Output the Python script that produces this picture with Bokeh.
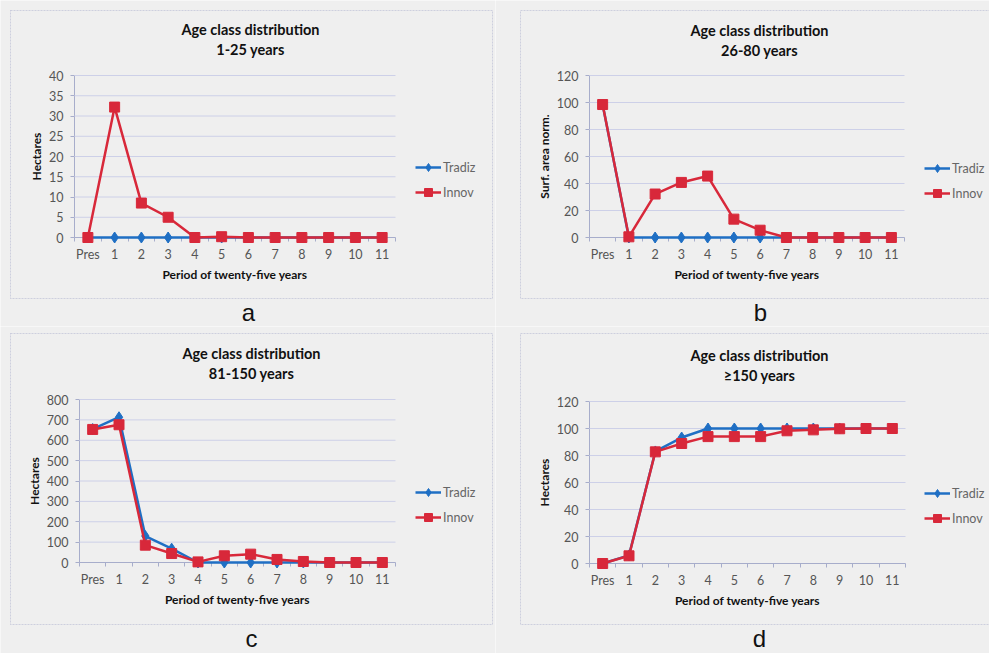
from bokeh.plotting import figure
from bokeh.models import (Range1d, FixedTicker, Label, BoxAnnotation, Legend, LegendItem,
                          CustomJSTickFormatter)
from bokeh.layouts import row, column
from bokeh.embed import file_html
from bokeh.resources import INLINE

# ---------------- data ----------------
periods = ["Pres", "1", "2", "3", "4", "5", "6", "7", "8", "9", "10", "11"]

a_tradiz = [0, 0, 0, 0, 0, 0, 0, 0, 0, 0, 0, 0]
a_innov = [0, 32.2, 8.5, 5, 0, 0.2, 0, 0, 0, 0, 0, 0]

b_tradiz = [98.5, 0, 0, 0, 0, 0, 0, 0, 0, 0, 0, 0]
b_innov = [98.5, 0.5, 32.2, 40.8, 45.5, 13.6, 5.4, 0, 0, 0, 0, 0]

c_tradiz = [655, 713, 130, 68, 0, 0, 0, 0, 0, 0, 0, 0]
c_innov = [653, 676, 85, 44, 3, 33, 41, 15, 5, 0, 0, 0]

d_tradiz = [0, 6, 83, 93.3, 100, 100, 100, 100, 100, 100, 100, 100]
d_innov = [0, 5.7, 82.7, 88.9, 94, 94, 94, 98.3, 99, 99.8, 100, 100]

a_yticks = [0, 5, 10, 15, 20, 25, 30, 35, 40]
b_yticks = [0, 20, 40, 60, 80, 100, 120]
c_yticks = [0, 100, 200, 300, 400, 500, 600, 700, 800]
d_yticks = [0, 20, 40, 60, 80, 100, 120]

title_line1 = "Age class distribution"
subtitles = ["1-25 years", "26-80 years", "81-150 years", "\u2265150 years"]
ylabels = ["Hectares", "Surf. area norm.", "Hectares", "Hectares"]
xlabel = "Period of twenty-five years"
letters = ["a", "b", "c", "d"]
series_names = ["Tradiz", "Innov"]

# ---------------- styles ----------------
BG = "#efefef"
BLUE = "#1f6fc4"
RED = "#d8283a"
GRID = "#cdd0e8"
AXIS = "#a7adcb"
TXT = "#555555"
FRAME = "#7f85b5"
FONT = "Lato"


def make_panel(i, tradiz, innov, yticks, geom):
    # geometry (page pixels): figure box, plot area, chart box, text anchors
    ox, oy, w, h = geom["fig"]
    L, R, T, B = geom["plot"]
    n = len(periods)
    ymax = yticks[-1]
    pxx = (R - L) / n
    pxy = (B - T) / ymax
    x_start = -0.5 - (L - ox) / pxx
    x_end = n - 0.5 + (ox + w - R) / pxx
    y_start = -(oy + h - B) / pxy
    y_end = ymax + (T - oy) / pxy

    def sx(X):
        return X - ox

    def sy(Y):
        return oy + h - Y

    p = figure(width=w, height=h, x_range=Range1d(x_start, x_end),
               y_range=Range1d(y_start, y_end),
               output_backend="svg", toolbar_location=None, title=None,
               min_border=0, min_border_left=0, min_border_right=0,
               min_border_top=0, min_border_bottom=0)
    p.background_fill_color = BG
    p.border_fill_color = BG
    p.outline_line_color = None
    p.grid.visible = False

    xs = list(range(n))
    x_lo, x_hi = -0.5, n - 0.5

    # horizontal gridlines at the y ticks
    gl = [t for t in yticks if t != 0]
    p.segment(x0=[x_lo] * len(gl), x1=[x_hi] * len(gl), y0=gl, y1=gl,
              line_color=GRID, line_width=1)

    xa = p.xaxis[0]
    ya = p.yaxis[0]
    xa.fixed_location = 0
    ya.fixed_location = x_lo
    xa.bounds = (x_lo, x_hi)
    ya.bounds = (0, ymax)
    xa.ticker = FixedTicker(ticks=xs, minor_ticks=[k - 0.5 for k in range(n + 1)])
    xa.formatter = CustomJSTickFormatter(args=dict(labels=periods),
                                         code="return labels[Math.round(tick)]")
    ya.ticker = FixedTicker(ticks=yticks)
    for ax in (xa, ya):
        ax.level = "underlay"
        ax.axis_line_color = AXIS
        ax.major_tick_line_color = AXIS
        ax.minor_tick_line_color = AXIS
        ax.major_label_text_font = FONT
        ax.major_label_text_font_size = "12.5px"
        ax.major_label_text_color = TXT
        ax.axis_label_text_font = FONT
        ax.axis_label_text_font_size = "12px"
        ax.axis_label_text_font_style = "bold"
        ax.axis_label_text_color = "#111111"
        ax.axis_label_standoff = 2
    xa.major_tick_out = 0
    xa.major_tick_in = 0
    xa.minor_tick_out = 4
    xa.minor_tick_in = 0
    xa.major_label_standoff = 5
    xa.axis_label = xlabel
    ya.major_tick_out = 4
    ya.major_tick_in = 0
    ya.minor_tick_line_color = None
    ya.major_label_standoff = 7
    ya.axis_label = ylabels[i]

    bl = p.line(xs, tradiz, line_color=BLUE, line_width=2.5)
    bs = p.scatter(xs, tradiz, marker="diamond", size=11, color=BLUE)
    rl = p.line(xs, innov, line_color=RED, line_width=2.5)
    rs = p.scatter(xs, innov, marker="square", size=10, color=RED)

    lx, ly1 = geom["legend"]
    leg_h = 20 + 5 + 20
    legend = Legend(items=[LegendItem(label=series_names[0], renderers=[bl, bs]),
                           LegendItem(label=series_names[1], renderers=[rl, rs])],
                    location=(sx(lx), sy(ly1 - 10 + leg_h)),
                    glyph_width=26, glyph_height=20, label_height=20, spacing=5,
                    padding=0, margin=0, label_standoff=2,
                    border_line_color=None, background_fill_alpha=0,
                    label_text_font=FONT, label_text_font_size="12.5px",
                    label_text_color="#666666")
    p.add_layout(legend)

    # chart frame box
    bx0, by0, bx1, by1 = geom["box"]
    p.add_layout(BoxAnnotation(left=sx(bx0), right=sx(bx1), top=sy(by0), bottom=sy(by1),
                               left_units="screen", right_units="screen",
                               top_units="screen", bottom_units="screen",
                               fill_color=None, fill_alpha=0, line_color=FRAME,
                               line_width=1, line_dash="2 1", level="overlay"))

    tx, ty1, ty2 = geom["title"]
    for txt, ty in ((title_line1, ty1), (subtitles[i], ty2)):
        p.add_layout(Label(x=sx(tx), y=sy(ty), x_units="screen", y_units="screen",
                           text=txt, text_align="center", text_baseline="middle",
                           text_font=FONT, text_font_size="14.5px",
                           text_font_style="bold", text_color="#111111"))
    lx2, ly2 = geom["letter"]
    p.add_layout(Label(x=sx(lx2), y=sy(ly2), x_units="screen", y_units="screen",
                       text=letters[i], text_align="center", text_baseline="middle",
                       text_font="Liberation Sans", text_font_size="24px",
                       text_color="#111111"))
    return p


geoms = [
    dict(fig=(0, 0, 495, 326), plot=(74, 395, 75, 237), box=(10, 10, 492, 298),
         title=(250, 29, 49), letter=(248, 312), legend=(415, 167)),
    dict(fig=(495, 0, 494, 326), plot=(589, 904, 75, 237), box=(520, 10, 1000, 298),
         title=(759, 30, 50), letter=(760, 312), legend=(924, 168)),
    dict(fig=(0, 326, 495, 327), plot=(79, 395, 399, 562), box=(10, 333, 492, 624),
         title=(251, 353, 373), letter=(251, 638), legend=(415, 492)),
    dict(fig=(495, 326, 494, 327), plot=(589, 905, 401, 563), box=(520, 333, 1000, 624),
         title=(759, 355, 375), letter=(759, 638), legend=(924, 493)),
]

pa = make_panel(0, a_tradiz, a_innov, a_yticks, geoms[0])
pb = make_panel(1, b_tradiz, b_innov, b_yticks, geoms[1])
pc = make_panel(2, c_tradiz, c_innov, c_yticks, geoms[2])
pd = make_panel(3, d_tradiz, d_innov, d_yticks, geoms[3])

layout = column(row(pa, pb), row(pc, pd))
open("out.html", "w").write(file_html(layout, INLINE))
